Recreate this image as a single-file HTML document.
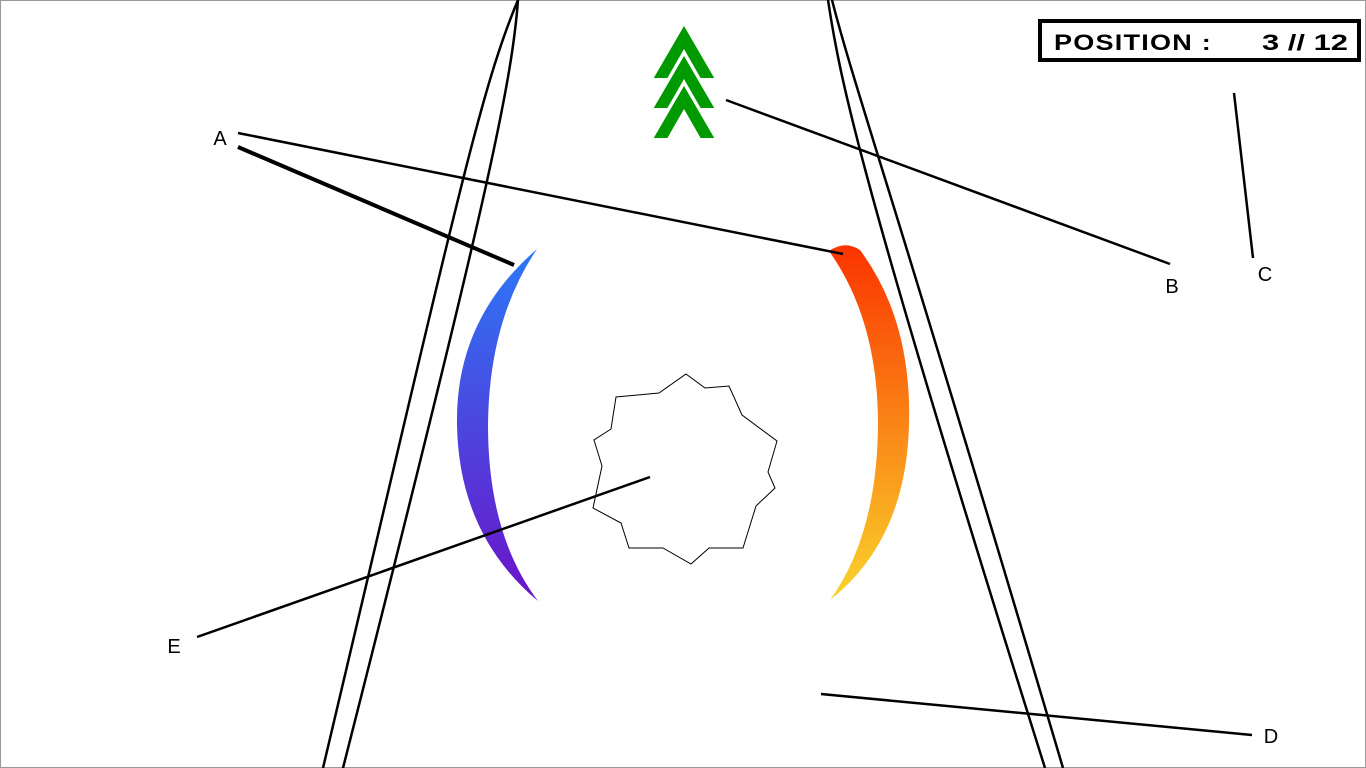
<!DOCTYPE html>
<html><head><meta charset="utf-8"><style>
html,body{margin:0;padding:0;background:#fff;width:1366px;height:768px;overflow:hidden}
svg{display:block}
text{font-family:"Liberation Sans",sans-serif}
</style></head><body>
<svg width="1366" height="768">
<defs>
<linearGradient id="gl" x1="0" y1="0" x2="0" y2="1"><stop offset="0" stop-color="#2b78f7"/><stop offset="1" stop-color="#6b14c8"/></linearGradient>
<linearGradient id="gr" x1="0" y1="0" x2="0" y2="1"><stop offset="0" stop-color="#fa3400"/><stop offset="1" stop-color="#fad42c"/></linearGradient>
</defs>
<rect x="0.5" y="0.5" width="1365" height="767" fill="none" stroke="#999"/>
<g fill="none" stroke="#000" stroke-width="2.5">
<path d="M518,0 C480,90 455,210 323,768"/>
<path d="M518,0 C512,80 490,190 343,768"/>
</g>
<g fill="none" stroke="#000" stroke-width="2.5">
<path d="M832,0 C855,90 895,200 1063,768"/>
<path d="M828,0 C840,80 860,180 1045,768"/>
</g>
<path d="M537,249 Q455,320 457,425 Q459,535 538,601 Q488,535 488,425 Q489,320 537,249 Z" fill="url(#gl)"/>
<path d="M829,251 Q845,240 860,250 Q912,320 909,425 Q906,540 830,600 Q877,535 878,425 Q878,320 829,251 Z" fill="url(#gr)"/>
<polygon points="686,374 705,388 729,386 742,415 777,441 768,472 775,488 756,506 743,548 709,548 691,564 663,548 629,548 621,523 593,508 602,466 594,440 611,429 616,397 659,393" fill="none" stroke="#000" stroke-width="1"/>
<g fill="#009900" stroke="#fff" stroke-width="2">
<polygon points="684,24 716,79 700,79 684,51 668,79 652,79"/>
<polygon points="684,54 716,109 700,109 684,81 668,109 652,109"/>
<polygon points="684,84 716,139 700,139 684,111 668,139 652,139"/>
</g>
<g stroke="#000" stroke-width="2.5">
<line x1="238" y1="133" x2="843" y2="254"/>
<line x1="238" y1="147" x2="514" y2="265" stroke-width="4"/>
<line x1="726" y1="100" x2="1170" y2="264"/>
<line x1="1234" y1="93" x2="1253" y2="258"/>
<line x1="821" y1="694" x2="1252" y2="735"/>
<line x1="197" y1="637" x2="650" y2="477"/>
</g>
<g font-size="20" fill="#000" text-anchor="middle">
<text x="220" y="145">A</text>
<text x="1172" y="293">B</text>
<text x="1265" y="281">C</text>
<text x="1271" y="743">D</text>
<text x="174" y="653">E</text>
</g>
<g>
<rect x="1040" y="21" width="319" height="39" fill="#fff" stroke="#000" stroke-width="4"/>
<text x="1054" y="50" font-size="22" font-weight="bold" letter-spacing="1" textLength="158" lengthAdjust="spacingAndGlyphs">POSITION :</text>
<text x="1262" y="50" font-size="22" font-weight="bold" textLength="86" lengthAdjust="spacingAndGlyphs">3 // 12</text>
</g>
</svg>
</body></html>
